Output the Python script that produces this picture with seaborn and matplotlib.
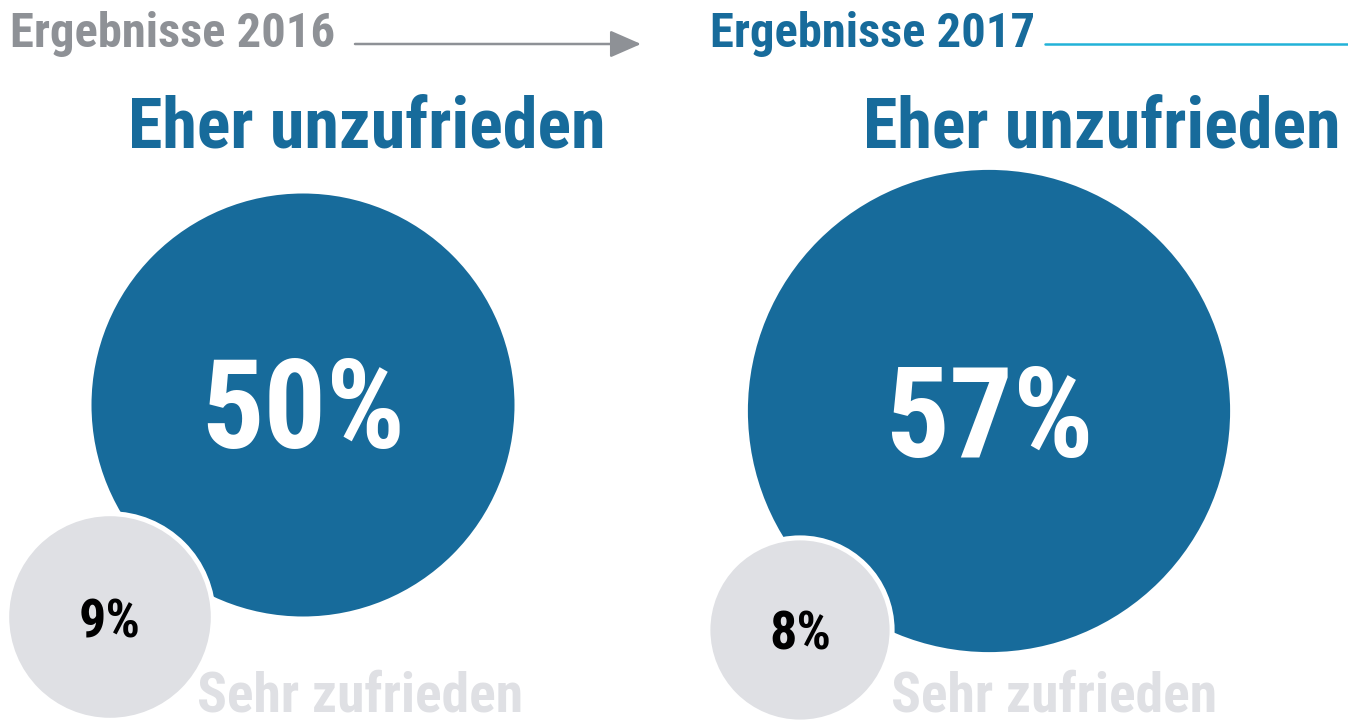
import matplotlib.pyplot as plt
import seaborn as sns
import pandas as pd

years = ["2016", "2017"]
unzufrieden = [50, 57]
sehr_zufrieden = [9, 8]

sns.set_theme(style="white")
plt.rcParams["font.family"] = ["Roboto Condensed", "DejaVu Sans"]
plt.rcParams["font.weight"] = "bold"

BLUE = "#176b9b"
GREY = "#dfe0e4"
HEAD_GREY = "#8e9196"
CYAN = "#22b2d8"
DPI = 100

fig = plt.figure(figsize=(13.48, 7.21), dpi=DPI)
ax = fig.add_axes([0, 0, 1, 1])
ax.set_xlim(0, 1348)
ax.set_ylim(721, 0)
ax.set_aspect("equal")
ax.axis("off")

# layout in pixels
big_xy = [(303, 405), (989, 411)]
big_px_per_pct = 4.23
small_xy = [(110, 617), (800, 630)]
small_px_per_pct = 11.2


def size_for(r):
    # scatter size (pt^2) for a circle of radius r pixels
    return (2 * r * 72 / DPI) ** 2


big = pd.DataFrame({
    "x": [p[0] for p in big_xy],
    "y": [p[1] for p in big_xy],
    "r": [v * big_px_per_pct for v in unzufrieden],
})
small = pd.DataFrame({
    "x": [p[0] for p in small_xy],
    "y": [p[1] for p in small_xy],
    "r": [v * small_px_per_pct for v in sehr_zufrieden],
})

for df, col, pad in [(big, BLUE, 0), (small, "white", 5), (small, GREY, 0)]:
    sns.scatterplot(data=df, x="x", y="y", s=[size_for(r + pad) for r in df["r"]],
                    color=col, edgecolor="none", linewidth=0, ax=ax, legend=False,
                    zorder=2)

# headers
ax.text(10, 47, f"Ergebnisse {years[0]}", color=HEAD_GREY, fontsize=35,
        ha="left", va="baseline")
ax.annotate("", xy=(641, 44), xytext=(355, 44),
            arrowprops=dict(arrowstyle="-|>,head_length=1.6,head_width=0.7",
                            color=HEAD_GREY, lw=1.8, shrinkA=0, shrinkB=0))
ax.text(710, 47, f"Ergebnisse {years[1]}", color=BLUE, fontsize=35,
        ha="left", va="baseline")
ax.plot([1045, 1348], [44, 44], color=CYAN, lw=1.8)

titles_x = [367, 1102]
sehr_x = [360, 1054]
num_size = [89, 91]
for i in range(2):
    ax.text(titles_x[i], 148, "Eher unzufrieden", color=BLUE, fontsize=50.5,
            ha="center", va="baseline")
    ax.text(big_xy[i][0], big_xy[i][1] + 43 + (3 if i else 0), f"{unzufrieden[i]}%",
            color="white", fontsize=num_size[i], ha="center", va="baseline",
            zorder=5)
    ax.text(small_xy[i][0], small_xy[i][1] + 20, f"{sehr_zufrieden[i]}%",
            color="black", fontsize=39, ha="center", va="baseline", zorder=5)
    ax.text(sehr_x[i], 712, "Sehr zufrieden", color=GREY, fontsize=40,
            ha="center", va="baseline", zorder=1)

fig.savefig("out.png", dpi=DPI)
